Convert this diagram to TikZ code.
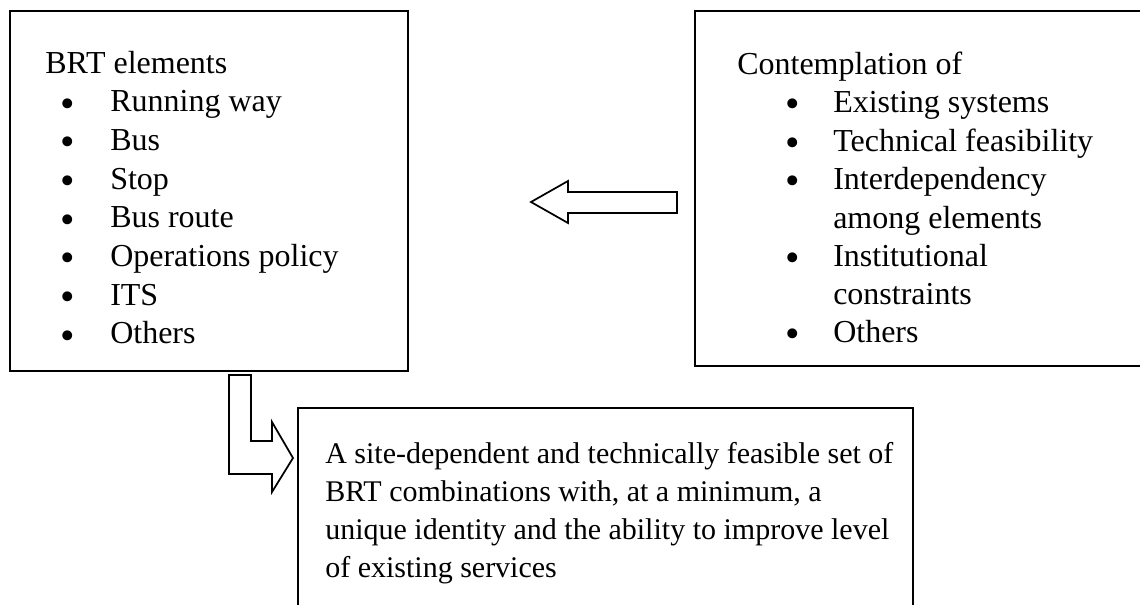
\documentclass[tikz,border=0pt]{standalone}
\usepackage{fontspec}
\setmainfont{Liberation Serif}
\usetikzlibrary{fit}
\begin{document}
\begin{tikzpicture}[x=0.75pt,y=-0.75pt,
  box/.style={draw, line width=1.5pt, rectangle, inner sep=0pt},
  txt/.style={anchor=base west, inner sep=0pt, font=\fontsize{24}{29}\selectfont},
  smalltxt/.style={anchor=base west, inner sep=0pt, font=\fontsize{22.5}{27}\selectfont},
  bul/.style={anchor=center, inner sep=0pt, font=\fontsize{31}{36}\selectfont},
  blockarrow/.style={draw, line width=1.3pt, fill=white, line join=miter}]
\useasboundingbox (0,0) rectangle (1140,604);
% box corners
\coordinate (la) at (10,11);  \coordinate (lb) at (408,371);
\coordinate (ra) at (695,11); \coordinate (rb) at (1170,366);
\coordinate (ba) at (298,408); \coordinate (bb) at (913,650);
\node[box, fit=(la)(lb)] (brt) {};
\node[box, fit=(ra)(rb)] (cont) {};
\node[box, fit=(ba)(bb)] (res) {};
% left box text
\node[txt] (brttitle) at (45,73) {BRT elements};
\foreach \t [count=\i] in {Running way, Bus, Stop, Bus route, Operations policy, ITS, Others}{
  \node[bul] (lb\i) at (68,{73+38.7*\i-4}) {\textbullet};
  \node[txt] (li\i) at (110,{73+38.7*\i}) {\t};
}
% right box text
\node[txt] (conttitle) at (737,74) {Contemplation of};
\foreach \t/\y/\b [count=\i] in {Existing systems/112/1, Technical feasibility/151/1, Interdependency/189/1, among elements/228/0, Institutional/266/1, constraints/304/0, Others/342/1}{
  \ifnum\b=1 \node[bul] (rbul\i) at (793,\y-4) {\textbullet};\fi
  \node[txt] (ri\i) at (833,\y) {\t};
}
% bottom box text
\foreach \t/\y [count=\i] in {A site-dependent and technically feasible set of/463, {BRT combinations with, at a minimum, a}/501, unique identity and the ability to improve level/539, of existing services/577}{
  \node[smalltxt] (bi\i) at (325,\y) {\t};
}
% block arrows
\draw[blockarrow] (531,202) -- (568,181) -- (568,192) -- (677,192) -- (677,213) -- (568,213) -- (568,223) -- cycle;
\draw[blockarrow] (229,375) -- (251,375) -- (251,441) -- (272,441) -- (272,422) -- (293,458) -- (272,492) -- (272,474) -- (229,474) -- cycle;
\end{tikzpicture}
\end{document}
